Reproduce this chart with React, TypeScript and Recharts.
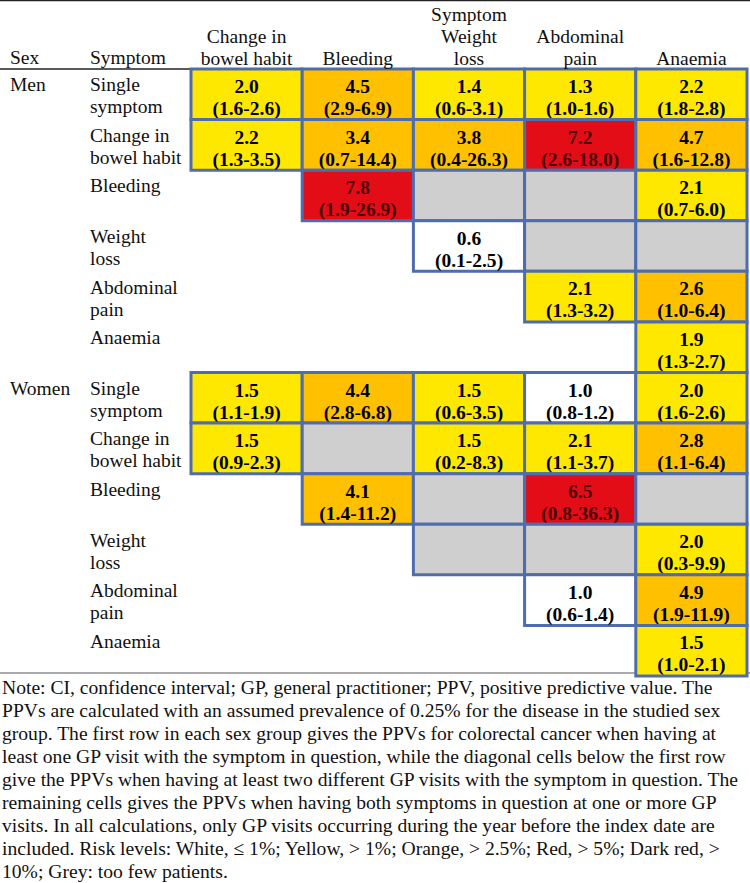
import { ScatterChart, Scatter, XAxis, YAxis, ReferenceArea } from "recharts"

const columns = [["Change in", "bowel habit"], ["Bleeding"], ["Symptom", "Weight", "loss"], ["Abdominal", "pain"], ["Anaemia"]]
const sexes = ["Men", "Women"]
const symptoms = [["Single", "symptom"], ["Change in", "bowel habit"], ["Bleeding"], ["Weight", "loss"], ["Abdominal", "pain"], ["Anaemia"]]

// PPV (%) per cell; "x" = too few patients (grey), null = no cell
const menPPV = [
  [2.0, 4.5, 1.4, 1.3, 2.2],
  [2.2, 3.4, 3.8, 7.2, 4.7],
  [null, 7.8, "x", "x", 2.1],
  [null, null, 0.6, "x", "x"],
  [null, null, null, 2.1, 2.6],
  [null, null, null, null, 1.9],
]
const menCI = [
  ["1.6-2.6", "2.9-6.9", "0.6-3.1", "1.0-1.6", "1.8-2.8"],
  ["1.3-3.5", "0.7-14.4", "0.4-26.3", "2.6-18.0", "1.6-12.8"],
  ["", "1.9-26.9", "", "", "0.7-6.0"],
  ["", "", "0.1-2.5", "", ""],
  ["", "", "", "1.3-3.2", "1.0-6.4"],
  ["", "", "", "", "1.3-2.7"],
]
const womenPPV = [
  [1.5, 4.4, 1.5, 1.0, 2.0],
  [1.5, "x", 1.5, 2.1, 2.8],
  [null, 4.1, "x", 6.5, "x"],
  [null, null, "x", "x", 2.0],
  [null, null, null, 1.0, 4.9],
  [null, null, null, null, 1.5],
]
const womenCI = [
  ["1.1-1.9", "2.8-6.8", "0.6-3.5", "0.8-1.2", "1.6-2.6"],
  ["0.9-2.3", "", "0.2-8.3", "1.1-3.7", "1.1-6.4"],
  ["", "1.4-11.2", "", "0.8-36.3", ""],
  ["", "", "", "", "0.3-9.9"],
  ["", "", "", "0.6-1.4", "1.9-11.9"],
  ["", "", "", "", "1.0-2.1"],
]

const noteLines = [
  "Note: CI, confidence interval; GP, general practitioner; PPV, positive predictive value. The",
  "PPVs are calculated with an assumed prevalence of 0.25% for the disease in the studied sex",
  "group. The first row in each sex group gives the PPVs for colorectal cancer when having at",
  "least one GP visit with the symptom in question, while the diagonal cells below the first row",
  "give the PPVs when having at least two different GP visits with the symptom in question. The",
  "remaining cells gives the PPVs when having both symptoms in question at one or more GP",
  "visits. In all calculations, only GP visits occurring during the year before the index date are",
  "included. Risk levels: White, \u2264 1%; Yellow, > 1%; Orange, > 2.5%; Red, > 5%; Dark red, >",
  "10%; Grey: too few patients.",
]

const FONT = "'Liberation Serif', 'Times New Roman', serif"
const BORDER = "#4f6dad"

type Cell = { x: number; y: number; col: number; row: number; ppv: number | "x"; ci: string }

const cells: Cell[] = []
;[menPPV, womenPPV].forEach((grid, g) => {
  const ci = g === 0 ? menCI : womenCI
  grid.forEach((r, ri) =>
    r.forEach((v, c) => {
      if (v === null) return
      const row = g * 6 + ri
      cells.push({ x: c + 0.5, y: row + 0.5, col: c, row, ppv: v as number | "x", ci: ci[ri][c] })
    })
  )
})

const riskColor = (v: number | "x") => {
  if (v === "x") return "#d0cfcf"
  if (v > 10) return "#9b0000"
  if (v > 5) return "#e30d17"
  if (v > 2.5) return "#ffc000"
  if (v > 1) return "#ffe800"
  return "#ffffff"
}

const CellText = (props: any) => {
  const { viewBox, ppv, ci } = props
  if (ppv === "x" || !viewBox) return null
  const cx = viewBox.x + viewBox.width / 2
  const fill = ppv > 5 ? "#4a0000" : "#000"
  return (
    <text textAnchor="middle" fontFamily={FONT} fontSize={19.5} fontWeight="bold" fill={fill}>
      <tspan x={cx} y={viewBox.y + 24}>{ppv.toFixed(1)}</tspan>
      <tspan x={cx} y={viewBox.y + 46}>({ci})</tspan>
    </text>
  )
}

const ColHeader = (props: any) => {
  const { x, y, payload } = props
  const lines = columns[Math.floor(payload.value)]
  return (
    <text textAnchor="middle" fontFamily={FONT} fontSize={19.5} fill="#111">
      {lines.map((l, i) => (
        <tspan key={i} x={x} y={y + 1 - (lines.length - 1 - i) * 22}>{l}</tspan>
      ))}
    </text>
  )
}

const RowLabel = (props: any) => {
  const { y, payload } = props
  const idx = Math.floor(payload.value)
  const lines = symptoms[idx % 6]
  return (
    <g fontFamily={FONT} fontSize={19.5} fill="#111">
      {idx % 6 === 0 && <text x={10} y={y - 3}>{sexes[Math.floor(idx / 6)]}</text>}
      <text>
        {lines.map((l, i) => (
          <tspan key={i} x={90} y={y - 3 + i * 22}>{l}</tspan>
        ))}
      </text>
    </g>
  )
}

export default function App() {
  return (
    <div style={{ position: "absolute", left: 0, top: 0, width: 750, height: 883, background: "#fff", overflow: "hidden", fontFamily: FONT }}>
      <svg width={750} height={680} style={{ position: "absolute", left: 0, top: 0 }}>
        <line x1={0} x2={750} y1={0.5} y2={0.5} stroke="#222" strokeWidth={1.5} />
        <line x1={0} x2={192} y1={69} y2={69} stroke="#222" strokeWidth={1.5} />
        <line x1={0} x2={750} y1={673} y2={673} stroke="#555" strokeWidth={1.2} />
        <text x={10} y={64} fontFamily={FONT} fontSize={19.5} fill="#111">Sex</text>
        <text x={90} y={64} fontFamily={FONT} fontSize={19.5} fill="#111">Symptom</text>
      </svg>
      <div style={{ position: "absolute", left: 0, top: 0 }}>
        <ScatterChart width={750} height={680} margin={{ top: 0, right: 3, bottom: 4, left: 0 }}>
          <XAxis
            type="number"
            dataKey="x"
            orientation="top"
            domain={[0, 5]}
            ticks={[0.5, 1.5, 2.5, 3.5, 4.5]}
            interval={0}
            height={69}
            axisLine={false}
            tickLine={false}
            tickSize={0}
            tickMargin={5}
            tick={(p: any) => <ColHeader {...p} />}
          />
          <YAxis
            type="number"
            dataKey="y"
            domain={[0, 12]}
            reversed
            ticks={[0.5, 1.5, 2.5, 3.5, 4.5, 5.5, 6.5, 7.5, 8.5, 9.5, 10.5, 11.5]}
            interval={0}
            width={191}
            axisLine={false}
            tickLine={false}
            tick={(p: any) => <RowLabel {...p} />}
          />
          {cells.map((c, i) => (
            <ReferenceArea
              key={i}
              x1={c.col}
              x2={c.col + 1}
              y1={c.row}
              y2={c.row + 1}
              fill={riskColor(c.ppv)}
              fillOpacity={1}
              stroke={BORDER}
              strokeWidth={3}
              label={<CellText ppv={c.ppv} ci={c.ci} />}
            />
          ))}
          <Scatter data={cells} isAnimationActive={false} shape={() => <g />} />
        </ScatterChart>
      </div>
      <div style={{ position: "absolute", left: 2, top: 676, fontSize: 19.6, lineHeight: "23px", color: "#111", whiteSpace: "nowrap" }}>
        {noteLines.map((l, i) => (
          <div key={i}>{l}</div>
        ))}
      </div>
    </div>
  )
}
